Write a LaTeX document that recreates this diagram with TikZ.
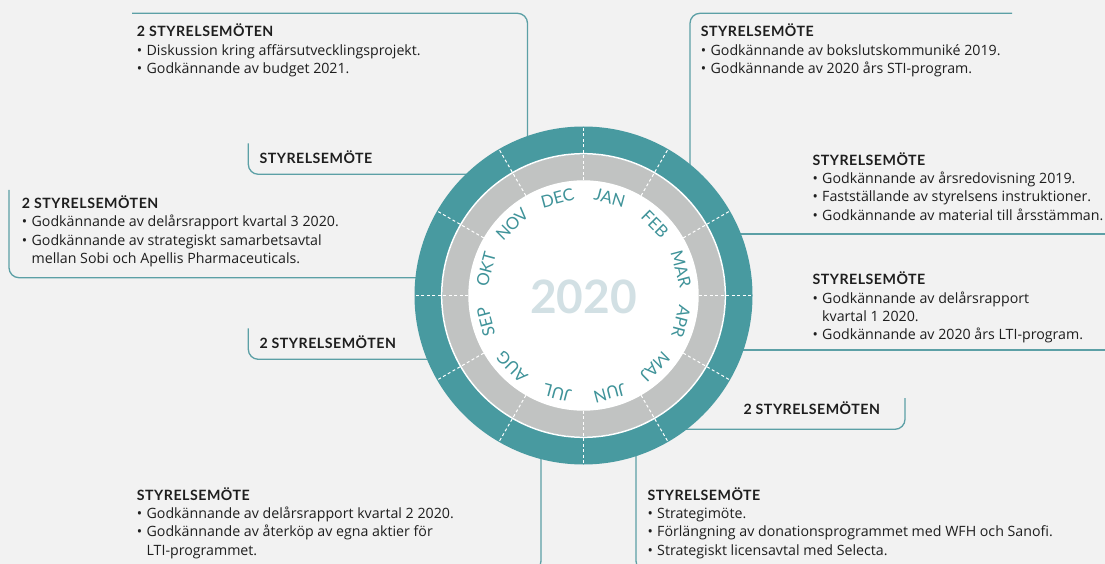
\documentclass[tikz,border=0pt]{standalone}
\usepackage{fontspec}
\setmainfont{Lato}
\newfontfamily\bodyfont{Open Sans}
\usetikzlibrary{calc}

\definecolor{paper}{RGB}{242,242,242}
\definecolor{ringteal}{RGB}{72,154,160}
\definecolor{ringgrey}{RGB}{193,195,194}
\definecolor{linkteal}{RGB}{92,160,166}
\definecolor{monthteal}{RGB}{63,147,153}
\definecolor{yeargrey}{RGB}{210,224,228}
\definecolor{ink}{RGB}{30,30,30}

\newcommand{\hd}[1]{{\rmfamily\bfseries\addfontfeatures{LetterSpace=3.5}#1}}
\newcommand{\itm}{\makebox[9.7pt][l]{•}}
\newcommand{\cnt}{\hspace*{9.7pt}}

\begin{document}
\begin{tikzpicture}[x=1pt,y=-1pt]
\tikzset{note/.style={anchor=base west, align=left, inner sep=0pt, text=ink, font=\bodyfont\fontsize{14.2}{18.2}\selectfont},
  link/.style={draw=linkteal, line width=1.3pt, rounded corners=10pt},
  tick/.style={draw=white, line width=1pt, dash pattern=on 3pt off 2.5pt},
  month/.style={anchor=base, inner sep=0pt, text=monthteal, font=\fontsize{16.8}{16.8}\selectfont}}
\useasboundingbox (0,0) rectangle (1105,564);
\fill[paper] (0,0) rectangle (1105,564);
\clip (0,0) rectangle (1105,564);
\coordinate (hub) at (583.5,295.5);
% free ends of the connectors
\coordinate (decEnd) at (132,13.3);
\coordinate (febEnd) at (1012,13.3);
\coordinate (marEnd) at (1105,234);
\coordinate (aprEnd) at (1105,350);
\coordinate (majEnd) at (905,398);
\coordinate (junEnd) at (700,571);
\coordinate (julEnd) at (480,571);
\coordinate (sepEnd) at (248.3,328.3);
\coordinate (oktEnd) at (9,190);
\coordinate (novEnd) at (248.3,143.3);
\draw[link] (decEnd) -| ($(hub)+(-56,0)$);
\draw[link] (febEnd) -| ($(hub)+(106.5,0)$);
\draw[link] (marEnd) -- (hub |- marEnd);
\draw[link] (aprEnd) -- (hub |- aprEnd);
\draw[link] (majEnd) |- ($(hub)+(0,133.8)$);
\draw[link] (junEnd) -| ($(hub)+(52.5,0)$);
\draw[link] (julEnd) -| ($(hub)+(-42.5,0)$);
\draw[link] (sepEnd) |- ($(hub)+(0,63.8)$);
\draw[link] (oktEnd) |- ($(hub)+(0,-17.8)$);
\draw[link] (novEnd) |- ($(hub)+(0,-121.2)$);
% the year wheel
\fill[ringteal] (hub) circle (169pt);
\fill[ringgrey] (hub) circle (141.2pt);
\draw[white, line width=1.5pt] (hub) circle (141.8pt);
\fill[white] (hub) circle (115.2pt);
\foreach \a in {0,30,...,330}
  \draw[tick] ($(hub)+(\a:115.2pt)$) -- ($(hub)+(\a:169pt)$);
\foreach \m/\a in {JAN/75,FEB/45,MAR/15,APR/-15,MAJ/-45,JUN/-75,JUL/-105,AUG/-135,SEP/-165,OKT/165,NOV/135,DEC/105}
  \node[month, rotate=\a-90] (m\m) at ($(hub)+(\a:95pt)$) {\m};
\node[font=\bfseries\fontsize{46}{46}\selectfont, text=yeargrey, inner sep=0pt] (year) at ($(hub)+(0,1.2)$) {2020};
% meetings (placed at the baseline of their last line)
\node[note] (dec) at (136.7,73.3) {\hd{2 STYRELSEMÖTEN}\\\itm Diskussion kring affärsutvecklingsprojekt.\\\itm Godkännande av budget 2021.};
\node[note] (feb) at (700.7,73.3) {\hd{STYRELSEMÖTE}\\\itm Godkännande av bokslutskommuniké 2019.\\\itm Godkännande av 2020 års STI-program.};
\node[note] (mar) at (812.3,220) {\hd{STYRELSEMÖTE}\\\itm Godkännande av årsredovisning 2019.\\\itm Fastställande av styrelsens instruktioner.\\\itm Godkännande av material till årsstämman.};
\node[note] (apr) at (812.3,339.5) {\hd{STYRELSEMÖTE}\\\itm Godkännande av delårsrapport\\\cnt kvartal 1 2020.\\\itm Godkännande av 2020 års LTI-program.};
\node[note] (maj) at (743.3,414) {\hd{2 STYRELSEMÖTEN}};
\node[note] (jun) at (647.3,555) {\hd{STYRELSEMÖTE}\\\itm Strategimöte.\\\itm Förlängning av donationsprogrammet med WFH och Sanofi.\\\itm Strategiskt licensavtal med Selecta.};
\node[note] (jul) at (136.7,555) {\hd{STYRELSEMÖTE}\\\itm Godkännande av delårsrapport kvartal 2 2020.\\\itm Godkännande av återköp av egna aktier för\\\cnt LTI-programmet.};
\node[note] (sep) at (259.3,348.3) {\hd{2 STYRELSEMÖTEN}};
\node[note] (okt) at (21.7,263.3) {\hd{2 STYRELSEMÖTEN}\\\itm Godkännande av delårsrapport kvartal 3 2020.\\\itm Godkännande av strategiskt samarbetsavtal\\\cnt mellan Sobi och Apellis Pharmaceuticals.};
\node[note] (nov) at (259.3,163.3) {\hd{STYRELSEMÖTE}};
\end{tikzpicture}
\end{document}
